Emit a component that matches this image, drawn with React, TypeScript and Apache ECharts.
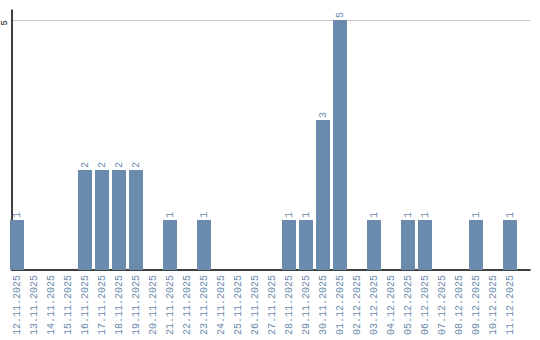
import React, { useEffect, useRef } from "react";
import * as echarts from "echarts";

const categories: string[] = [
  "12.11.2025", "13.11.2025", "14.11.2025", "15.11.2025", "16.11.2025",
  "17.11.2025", "18.11.2025", "19.11.2025", "20.11.2025", "21.11.2025",
  "22.11.2025", "23.11.2025", "24.11.2025", "25.11.2025", "26.11.2025",
  "27.11.2025", "28.11.2025", "29.11.2025", "30.11.2025", "01.12.2025",
  "02.12.2025", "03.12.2025", "04.12.2025", "05.12.2025", "06.12.2025",
  "07.12.2025", "08.12.2025", "09.12.2025", "10.12.2025", "11.12.2025",
];

const counts: number[] = [
  1, 0, 0, 0, 2, 2, 2, 2, 0, 1,
  0, 1, 0, 0, 0, 0, 1, 1, 3, 5,
  0, 1, 0, 1, 1, 0, 0, 1, 0, 1,
];

const yTickValues: number[] = [0, 5];

const BAR = "#6a8bab";
const LABEL = "#6b8aab";

export default function App() {
  const ref = useRef<HTMLDivElement>(null);
  useEffect(() => {
    if (!ref.current) return;
    const chart = echarts.init(ref.current, null, { renderer: "svg" });
    const yMax = 5.2;
    chart.setOption({
      animation: false,
      grid: [
        { left: 10, right: 10, top: 10, bottom: 70, containLabel: false },
        { left: 8.5, width: 510, top: 10, bottom: 70, containLabel: false },
      ],
      xAxis: [
        {
          gridIndex: 0,
          type: "value",
          min: 0,
          max: 1,
          axisLine: { show: true, onZero: false, lineStyle: { color: "#000", width: 1.5 } },
          axisTick: { show: false },
          axisLabel: { show: false },
          splitLine: { show: false },
        },
        {
          gridIndex: 1,
          type: "category",
          data: categories,
          axisLine: { show: false },
          axisTick: { show: false },
          axisLabel: {
            rotate: 90,
            interval: 0,
            margin: 5,
            fontSize: 10,
            fontFamily: "Liberation Mono",
            color: LABEL,
          },
        },
      ],
      yAxis: [
        {
          gridIndex: 0,
          type: "value",
          min: yTickValues[0],
          max: yMax,
          interval: yTickValues[1] - yTickValues[0],
          axisLine: { show: true, lineStyle: { color: "#000", width: 1.5 } },
          axisTick: { show: false },
          axisLabel: {
            showMinLabel: false,
            showMaxLabel: false,
            rotate: 90,
            align: "right",
            verticalAlign: "bottom",
            margin: 3,
            fontSize: 9,
            fontFamily: "Liberation Mono",
            color: "#000",
          },
          splitLine: {
            show: true,
            showMinLine: false,
            showMaxLine: false,
            lineStyle: { color: "#c8c8c8", width: 1 },
          },
        },
        {
          gridIndex: 1,
          type: "value",
          min: 0,
          max: yMax,
          show: false,
          splitLine: { show: false },
        },
      ],
      series: [
        {
          type: "bar",
          xAxisIndex: 1,
          yAxisIndex: 1,
          data: counts.map((v) => (v === 0 ? null : v)),
          barWidth: 14,
          itemStyle: { color: BAR },
          label: {
            show: true,
            position: "top",
            distance: 2,
            rotate: 90,
            align: "left",
            verticalAlign: "middle",
            fontSize: 10,
            fontFamily: "Liberation Mono",
            color: LABEL,
          },
        },
      ],
    });
    return () => chart.dispose();
  }, []);
  return <div ref={ref} style={{ width: 540, height: 340, position: "absolute", left: 0, top: 0 }} />;
}
